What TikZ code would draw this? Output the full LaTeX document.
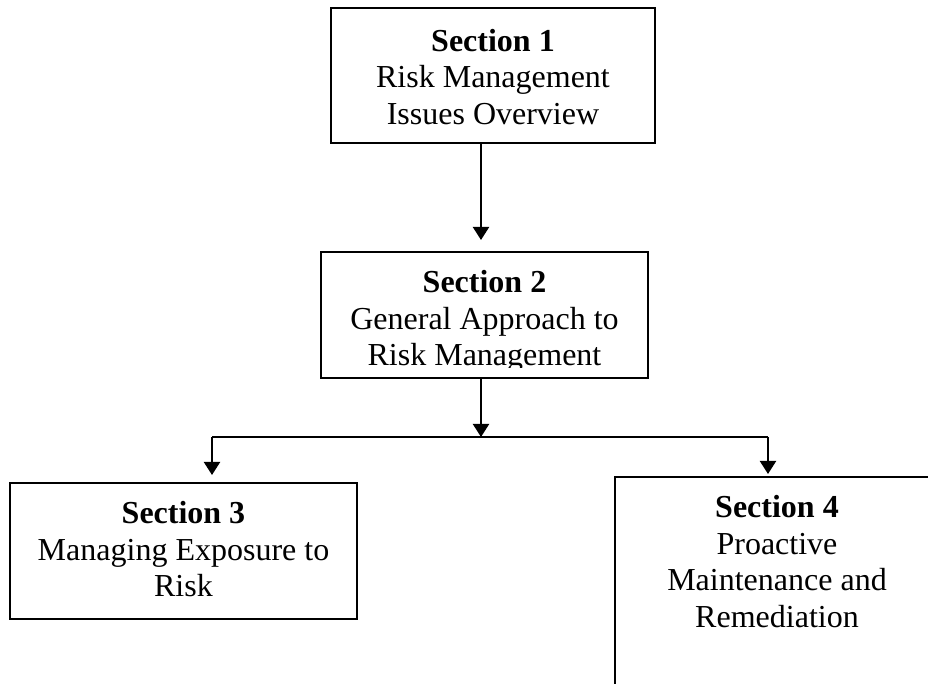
\documentclass[tikz,border=0pt]{standalone}
\usepackage{fontspec}
\setmainfont{Liberation Serif}
\usetikzlibrary{arrows.meta}

\begin{document}
\begin{tikzpicture}[x=0.5pt,y=-0.5pt,line width=1pt,
    >={Triangle[length=6.5pt,width=8pt]},
    sect/.style={draw,rectangle,inner sep=0pt,outer sep=0pt,font=\fontsize{16}{18.4}\selectfont}]
    \useasboundingbox (0,0) rectangle (928,684);
    \clip (0,0) rectangle (928,684);

    \node[sect] (s1) at (493,75.5) {\parbox[c][67.5pt][t]{162pt}{\centering\vspace*{10.5pt}%
        \textbf{Section 1}\\ Risk Management\\ Issues Overview}};
    \begin{scope}
        \clip (321,252) rectangle (648,368);
        \node[sect] (s2) at (484.5,315) {\parbox[c][63pt][t]{163.5pt}{\centering\vspace*{9pt}%
            \textbf{Section 2}\\ General Approach to\\ Risk Management}};
    \end{scope}
    \draw (s2.north west) rectangle (s2.south east);
    \node[sect] (s3) at (183.5,551) {\parbox[c][68pt][t]{173.5pt}{\centering\vspace*{9pt}%
        \textbf{Section 3}\\ Managing Exposure to\\ Risk}};
    \node[sect] (s4) at (777,618.5) {\parbox[c][141.5pt][t]{162pt}{\centering\vspace*{9pt}%
        \textbf{Section 4}\\ Proactive\\ Maintenance and\\ Remediation}};

    \coordinate (split) at (481,437);
    \coordinate (lft) at (212,437);
    \coordinate (rgt) at (768,437);

    \draw[->,shorten >=6pt] (s1.south -| split) -- (s2.north -| split);
    \draw[->] (s2.south -| split) -- (split);
    \draw (lft) -- (rgt);
    \draw[->,shorten >=4pt] (lft) -- (s3.north -| lft);
    \draw[->,shorten >=1.5pt] (rgt) -- (s4.north -| rgt);
\end{tikzpicture}
\end{document}
